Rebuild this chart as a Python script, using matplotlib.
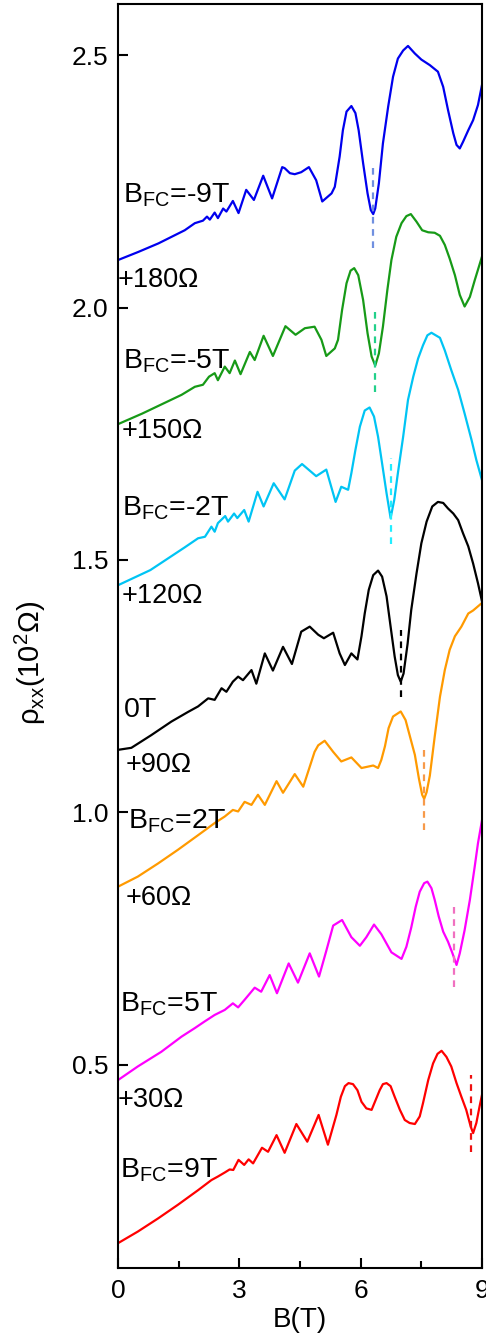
import matplotlib
matplotlib.use('Agg')
import matplotlib.pyplot as plt
from matplotlib.ticker import MultipleLocator

plt.rcParams['font.family'] = ['Liberation Sans', 'DejaVu Sans']
plt.rcParams['mathtext.fontset'] = 'custom'
plt.rcParams['mathtext.rm'] = 'Liberation Sans'
plt.rcParams['mathtext.it'] = 'Liberation Sans:italic'

# B_FC = -9T  (+180 ohm)
b_m9 = [0, 0.5, 1.0, 1.65, 1.9, 2.1, 2.2, 2.27, 2.39, 2.47, 2.6, 2.68, 2.84, 2.98, 3.17, 3.36,
        3.59, 3.81, 4.06, 4.12, 4.25, 4.37, 4.53, 4.72, 4.9, 5.05, 5.28, 5.36, 5.48, 5.56,
        5.65, 5.77, 5.87, 5.95, 6.06, 6.17, 6.25, 6.31, 6.36, 6.45, 6.55, 6.68, 6.8, 6.92,
        7.05, 7.17, 7.34, 7.5, 7.71, 7.91, 8.04, 8.16, 8.29, 8.37, 8.45, 8.53, 8.66, 8.78,
        8.9, 9.0]
r_m9 = [2.094, 2.110, 2.127, 2.153, 2.167, 2.172, 2.180, 2.174, 2.188, 2.177, 2.196, 2.190,
        2.211, 2.187, 2.233, 2.213, 2.261, 2.216, 2.278, 2.276, 2.266, 2.264, 2.268, 2.278,
        2.252, 2.210, 2.226, 2.239, 2.299, 2.351, 2.388, 2.399, 2.385, 2.351, 2.286, 2.226,
        2.193, 2.185, 2.196, 2.246, 2.325, 2.398, 2.457, 2.493, 2.509, 2.518, 2.503, 2.491,
        2.480, 2.467, 2.437, 2.391, 2.345, 2.322, 2.315, 2.328, 2.351, 2.371, 2.401, 2.441]

# B_FC = -5T  (+150 ohm)
b_m5 = [0, 0.6, 1.57, 1.9, 2.1, 2.25, 2.39, 2.47, 2.64, 2.76, 2.89, 3.03, 3.26, 3.38, 3.60,
        3.83, 4.14, 4.39, 4.62, 4.86, 5.03, 5.15, 5.36, 5.44, 5.54, 5.65, 5.75, 5.84, 5.94,
        6.06, 6.17, 6.27, 6.36, 6.45, 6.55, 6.66, 6.76, 6.88, 7.01, 7.13, 7.24, 7.38, 7.52,
        7.67, 7.83, 7.96, 8.08, 8.2, 8.33, 8.45, 8.57, 8.7, 8.82, 9.0]
r_m5 = [1.769, 1.790, 1.827, 1.843, 1.847, 1.863, 1.870, 1.856, 1.883, 1.870, 1.895, 1.868,
        1.912, 1.896, 1.944, 1.904, 1.963, 1.946, 1.959, 1.962, 1.936, 1.904, 1.919, 1.936,
        1.995, 2.048, 2.073, 2.078, 2.064, 2.015, 1.949, 1.903, 1.885, 1.909, 1.962, 2.035,
        2.094, 2.140, 2.167, 2.181, 2.185, 2.170, 2.153, 2.149, 2.148, 2.142, 2.124, 2.097,
        2.064, 2.025, 2.002, 2.021, 2.054, 2.101]

# B_FC = -2T  (+120 ohm)
b_m2 = [0, 0.8, 1.65, 1.98, 2.15, 2.31, 2.39, 2.47, 2.65, 2.72, 2.87, 2.95, 3.12, 3.23, 3.45,
        3.60, 3.85, 4.12, 4.37, 4.55, 4.9, 5.15, 5.38, 5.52, 5.69, 5.77, 5.87, 5.98, 6.1,
        6.22, 6.33, 6.43, 6.53, 6.64, 6.74, 6.83, 6.92, 7.05, 7.17, 7.3, 7.42, 7.54, 7.65,
        7.75, 7.96, 8.08, 8.24, 8.41, 8.57, 8.74, 8.86, 9.0]
r_m2 = [1.450, 1.480, 1.525, 1.543, 1.546, 1.566, 1.556, 1.573, 1.587, 1.576, 1.592, 1.583,
        1.599, 1.576, 1.635, 1.606, 1.652, 1.620, 1.677, 1.690, 1.666, 1.679, 1.615, 1.645,
        1.639, 1.672, 1.718, 1.764, 1.796, 1.802, 1.784, 1.744, 1.691, 1.632, 1.583, 1.619,
        1.672, 1.744, 1.817, 1.863, 1.899, 1.925, 1.945, 1.950, 1.940, 1.915, 1.876, 1.837,
        1.790, 1.738, 1.698, 1.658]

# 0T  (+90 ohm)
b_0 = [0, 0.33, 0.82, 1.32, 1.73, 1.98, 2.23, 2.39, 2.56, 2.68, 2.84, 2.97, 3.09, 3.30, 3.42,
       3.63, 3.83, 4.08, 4.30, 4.53, 4.74, 4.95, 5.09, 5.32, 5.48, 5.61, 5.77, 5.92, 6.02,
       6.1, 6.2, 6.31, 6.43, 6.53, 6.64, 6.74, 6.84, 6.92, 6.99, 7.06, 7.16, 7.25, 7.38,
       7.5, 7.63, 7.77, 7.91, 8.04, 8.16, 8.29, 8.41, 8.53, 8.66, 8.78, 8.9, 9.0]
r_0 = [1.124, 1.128, 1.153, 1.180, 1.199, 1.210, 1.226, 1.223, 1.246, 1.239, 1.259, 1.269,
       1.262, 1.282, 1.255, 1.315, 1.281, 1.328, 1.294, 1.358, 1.368, 1.352, 1.345, 1.356,
       1.315, 1.292, 1.315, 1.303, 1.349, 1.394, 1.441, 1.470, 1.479, 1.467, 1.428, 1.368,
       1.309, 1.272, 1.259, 1.275, 1.334, 1.401, 1.473, 1.533, 1.576, 1.606, 1.615, 1.613,
       1.602, 1.592, 1.579, 1.553, 1.527, 1.493, 1.454, 1.418]

# B_FC = 2T  (+60 ohm)
b_2 = [0, 0.49, 0.99, 1.48, 1.98, 2.39, 2.64, 2.84, 2.97, 3.13, 3.30, 3.46, 3.63, 3.92, 4.08,
       4.37, 4.58, 4.86, 4.95, 5.11, 5.32, 5.52, 5.77, 6.02, 6.31, 6.43, 6.51, 6.6, 6.69,
       6.8, 6.99, 7.11, 7.21, 7.34, 7.44, 7.52, 7.57, 7.63, 7.71, 7.83, 7.96, 8.08, 8.2,
       8.33, 8.49, 8.66, 8.78, 9.0]
r_2 = [0.853, 0.873, 0.899, 0.926, 0.955, 0.979, 0.992, 1.005, 1.002, 1.021, 1.015, 1.035,
       1.015, 1.062, 1.039, 1.076, 1.051, 1.120, 1.133, 1.142, 1.120, 1.101, 1.109, 1.088,
       1.093, 1.088, 1.104, 1.131, 1.167, 1.190, 1.200, 1.183, 1.153, 1.114, 1.067, 1.035,
       1.027, 1.040, 1.073, 1.150, 1.229, 1.282, 1.322, 1.349, 1.368, 1.394, 1.400, 1.415]

# B_FC = 5T  (+30 ohm)
b_5 = [0, 0.49, 1.07, 1.57, 1.9, 2.14, 2.39, 2.64, 2.84, 2.97, 3.13, 3.38, 3.54, 3.75, 3.93,
       4.22, 4.45, 4.74, 4.97, 5.15, 5.32, 5.54, 5.77, 5.98, 6.14, 6.33, 6.51, 6.76, 7.01,
       7.13, 7.25, 7.36, 7.46, 7.57, 7.65, 7.75, 7.83, 7.93, 8.04, 8.16, 8.27, 8.37, 8.45,
       8.57, 8.7, 8.82, 8.9, 9.0]
r_5 = [0.470, 0.497, 0.526, 0.556, 0.573, 0.586, 0.599, 0.609, 0.622, 0.614, 0.629, 0.653,
       0.645, 0.678, 0.642, 0.701, 0.663, 0.721, 0.675, 0.726, 0.776, 0.787, 0.753, 0.736,
       0.753, 0.778, 0.759, 0.723, 0.710, 0.734, 0.772, 0.813, 0.843, 0.860, 0.863, 0.850,
       0.827, 0.794, 0.764, 0.744, 0.721, 0.698, 0.721, 0.767, 0.827, 0.893, 0.939, 0.985]

# B_FC = 9T
b_9 = [0, 0.49, 0.99, 1.48, 1.98, 2.31, 2.47, 2.64, 2.76, 2.85, 2.98, 3.12, 3.23, 3.34, 3.56,
       3.71, 3.92, 4.12, 4.41, 4.68, 4.96, 5.19, 5.40, 5.51, 5.61, 5.7, 5.81, 5.92, 6.02,
       6.14, 6.27, 6.47, 6.55, 6.64, 6.74, 6.84, 6.97, 7.09, 7.21, 7.34, 7.46, 7.54, 7.67,
       7.79, 7.9, 8.0, 8.12, 8.24, 8.37, 8.49, 8.61, 8.72, 8.78, 8.86, 8.94, 9.0]
r_9 = [0.147, 0.170, 0.196, 0.223, 0.252, 0.272, 0.279, 0.287, 0.293, 0.292, 0.312, 0.302,
       0.313, 0.305, 0.336, 0.328, 0.361, 0.326, 0.383, 0.348, 0.401, 0.342, 0.401, 0.437,
       0.458, 0.464, 0.462, 0.450, 0.427, 0.414, 0.411, 0.450, 0.462, 0.464, 0.458, 0.437,
       0.411, 0.391, 0.385, 0.383, 0.398, 0.424, 0.470, 0.503, 0.522, 0.528, 0.516, 0.497,
       0.464, 0.437, 0.411, 0.378, 0.365, 0.385, 0.418, 0.441]

# dashed markers at the deepest minimum of each curve
dip_b = [6.31, 6.36, 6.74, 6.99, 7.57, 8.31, 8.72]
dip_lo = [2.117, 1.833, 1.532, 1.228, 0.965, 0.655, 0.328]
dip_hi = [2.282, 1.995, 1.701, 1.361, 1.124, 0.820, 0.480]

field_labels = ['B$_{\\rm FC}$=-9T', 'B$_{\\rm FC}$=-5T', 'B$_{\\rm FC}$=-2T', '0T',
                'B$_{\\rm FC}$=2T', 'B$_{\\rm FC}$=5T', 'B$_{\\rm FC}$=9T']
offset_labels = ['+180Ω', '+150Ω', '+120Ω', '+90Ω', '+60Ω', '+30Ω']

colors = ['#0000EE', '#179A17', '#00C4F4', 'black', '#FF9A00', '#FF00FF', '#FF0000']
dash_colors = ['#7090E0', '#22D08A', '#22EEFF', 'black', '#F79A4A', '#F070C0', '#EE1111']

curves = [(b_m9, r_m9), (b_m5, r_m5), (b_m2, r_m2), (b_0, r_0),
          (b_2, r_2), (b_5, r_5), (b_9, r_9)]

fig = plt.figure(figsize=(4.86, 13.44), dpi=100)
ax = fig.add_axes([0.2428, 0.0566, 0.7490, 0.9404])

for i, (b, r) in enumerate(curves):
    ax.plot(b, r, color=colors[i], lw=1.6, solid_joinstyle='round')
    ax.plot([dip_b[i], dip_b[i]], [dip_lo[i], dip_hi[i]], color=dash_colors[i],
            lw=1.6, linestyle=(0, (3, 2.5)))

# label positions (B, rho) for the text
field_pos = [(0.12, 2.207), (0.12, 1.880), (0.10, 1.589), (0.15, 1.189),
             (0.25, 0.969), (0.05, 0.605), (0.05, 0.278)]
offset_pos = [(-0.02, 2.041), (0.10, 1.742), (0.10, 1.415), (0.20, 1.080),
              (0.20, 0.817), (-0.02, 0.417)]

for s, (x, y) in zip(field_labels, field_pos):
    ax.text(x, y, s, fontsize=20.5, va='baseline', ha='left')
for s, (x, y) in zip(offset_labels, offset_pos):
    ax.text(x, y, s, fontsize=19.5, va='baseline', ha='left')

ax.set_xlim(0, 9)
ax.set_ylim(0.098, 2.601)
ax.xaxis.set_major_locator(MultipleLocator(3))
ax.xaxis.set_minor_locator(MultipleLocator(1.5))
ax.set_yticks([0.5, 1.0, 1.5, 2.0, 2.5])
ax.set_yticklabels(['0.5', '1.0', '1.5', '2.0', '2.5'])
ax.tick_params(axis='both', which='major', direction='in', length=7, width=1.5,
               labelsize=19, top=False, right=False)
ax.tick_params(axis='x', which='major', pad=8)
ax.tick_params(axis='y', which='major', pad=7)
ax.tick_params(axis='x', which='minor', direction='in', length=5, width=1.5, top=False)
for sp in ax.spines.values():
    sp.set_linewidth(1.5)

ax.set_xlabel('B(T)', fontsize=20, labelpad=3)
ax.set_ylabel('ρ$_{\\rm xx}$(10$^2$Ω)', fontsize=21)
ax.yaxis.set_label_coords(-0.192, 0.479)

fig.savefig('out.png', dpi=100)
